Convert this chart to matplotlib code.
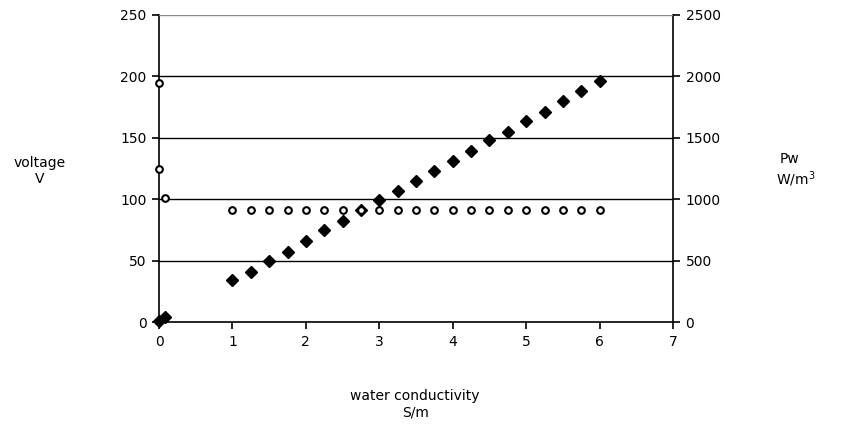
import matplotlib.pyplot as plt
from matplotlib.ticker import MultipleLocator

# voltage (left axis, V) -- open circles
volt_x = [0, 0, 0.08] + [1 + 0.25 * i for i in range(21)]
volt_y = [195, 125, 101] + [91] * 21

# Pw (right axis, W/m3) -- filled diamonds
pw_x = [0, 0.08, 1, 1.25, 1.5, 1.75, 2, 2.25, 2.5, 2.75, 3, 3.25, 3.5, 3.75,
        4, 4.25, 4.5, 4.75, 5, 5.25, 5.5, 5.75, 6]
pw_y = [10, 40, 340, 410, 500, 570, 660, 750, 820, 910, 990, 1070, 1150, 1230,
        1310, 1390, 1480, 1550, 1640, 1710, 1800, 1880, 1960]

plt.rcParams['font.family'] = ['DejaVu Sans']
plt.rcParams['font.size'] = 10

fig = plt.figure(figsize=(8.44, 4.32), dpi=100)
ax = fig.add_axes([0.1884, 0.2546, 0.609, 0.7107])
ax2 = ax.twinx()

ax.plot(volt_x, volt_y, 'o', ms=4.8, mfc='white', mec='black', mew=1.5,
        zorder=3, clip_on=False)
ax2.plot(pw_x, pw_y, 'D', ms=6, color='black', zorder=3, clip_on=False)

ax.set_xlim(0, 7)
ax.set_ylim(0, 250)
ax2.set_ylim(0, 2500)
ax.xaxis.set_major_locator(MultipleLocator(1))
ax.yaxis.set_major_locator(MultipleLocator(50))
ax2.yaxis.set_major_locator(MultipleLocator(500))

for v in [50, 100, 150, 200]:
    ax.axhline(v, color='black', lw=1, zorder=1)
ax.axhline(250, color='#888888', lw=1, zorder=1)

for a in (ax, ax2):
    a.spines['top'].set_visible(False)
    for s in ('left', 'right', 'bottom'):
        a.spines[s].set_linewidth(1.2)
    a.tick_params(direction='out', length=5, width=1.2, labelsize=10, pad=4)
ax.spines['right'].set_visible(False)
ax2.spines['left'].set_visible(False)
ax2.spines['bottom'].set_visible(False)
ax.spines['left'].set_zorder(0.5)

ax.set_facecolor('none')
ax2.set_zorder(ax.get_zorder() - 1)
ax.patch.set_visible(False)
ax2.patch.set_visible(False)

fig.text(0.047, 0.605, 'voltage\nV', ha='center', va='center', fontsize=10)
fig.text(0.935, 0.605, 'Pw\n   W/m$^3$', ha='center', va='center', fontsize=10)
fig.text(0.492, 0.065, 'water conductivity\nS/m', ha='center', va='center', fontsize=10)

fig.savefig('out.png', dpi=100)
